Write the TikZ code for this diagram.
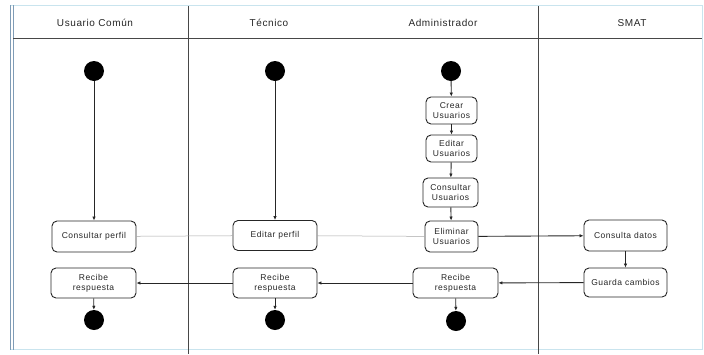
\documentclass[tikz,border=0pt]{standalone}
\usepackage{fontspec}
\setmainfont{Liberation Sans}[LetterSpace=6]
\usetikzlibrary{arrows.meta}
\definecolor{ink}{HTML}{262626}
\definecolor{frameblue}{HTML}{7F9CB6}
\definecolor{framelight}{HTML}{C9E4EE}
\tikzset{
  act/.style={draw=ink, line width=0.9pt, rounded corners=5pt, fill=white,
    inner sep=1pt, align=center, font=\fontsize{8.5}{10}\selectfont, text=ink},
  dot/.style={circle, fill=black, draw=none, minimum size=20pt, inner sep=0pt},
  flow/.style={draw=ink, line width=0.9pt, -{Latex[length=4pt,width=3.5pt]}},
  link/.style={draw=gray!70, line width=0.5pt},
  lanehead/.style={font=\fontsize{10}{12}\selectfont, text=ink},
  lane/.style={draw=ink!85, line width=0.9pt},
}
\begin{document}
\begin{tikzpicture}[x=1pt,y=-1pt]
  \useasboundingbox (0,0) rectangle (704,354);
  % outer frame
  \draw[framelight, line width=1pt] (11,5) -- (702,5) -- (702,349) -- (11,349);
  \draw[frameblue, line width=1pt] (10,5) -- (10,350);
  \draw[frameblue, line width=1pt] (13,5) -- (13,350);
  % header row and lane dividers
  \draw[lane, line width=0.7pt] (13,38) -- (702,38);
  \draw[lane] (188,6) -- (188,354);
  \draw[lane] (538,6) -- (538,354);
  \node[lanehead] (h1) at (95,23) {Usuario Común};
  \node[lanehead] (h2) at (269,23) {Técnico};
  \node[lanehead] (h3) at (443,23) {Administrador};
  \node[lanehead] (h4) at (632,23) {SMAT};

  % Usuario Común
  \node[dot] (us) at (94,71) {};
  \node[act, minimum width=84pt, minimum height=31pt] (uc) at (94,236.5) {Consultar perfil};
  \node[act, minimum width=85pt, minimum height=30pt] (ur) at (93.5,283) {Recibe\\respuesta};
  \node[dot] (ue) at (94,320) {};

  % Técnico
  \node[dot] (ts) at (275,71) {};
  \node[act, minimum width=84pt, minimum height=30pt] (te) at (275,235.5) {Editar perfil};
  \node[act, minimum width=84pt, minimum height=30pt] (tr) at (275,283) {Recibe\\respuesta};
  \node[dot] (tx) at (275,320) {};

  % Administrador
  \node[dot] (as) at (451,71) {};
  \node[act, minimum width=51pt, minimum height=27pt] (ac) at (451.5,110.5) {Crear\\Usuarios};
  \node[act, minimum width=51pt, minimum height=27pt] (ae) at (451.5,148.5) {Editar\\Usuarios};
  \node[act, minimum width=55pt, minimum height=29pt] (aq) at (450.5,192.5) {Consultar\\Usuarios};
  \node[act, minimum width=53pt, minimum height=31pt] (ad) at (451.5,236.5) {Eliminar\\Usuarios};
  \node[act, minimum width=85pt, minimum height=30pt] (ar) at (455.5,283) {Recibe\\respuesta};
  \node[dot] (ax) at (456,321) {};

  % SMAT
  \node[act, minimum width=83pt, minimum height=31pt] (sc) at (625.5,235.5) {Consulta datos};
  \node[act, minimum width=83pt, minimum height=29pt] (sg) at (625.5,282.5) {Guarda cambios};

  % control flow
  \draw[flow] (us) -- (uc);
  \draw[flow] (ts) -- (te);
  \draw[flow] (as) -- (ac);
  \draw[flow] (ac) -- (ae);
  \draw[flow] (ae) -- (aq);
  \draw[flow] (aq) -- (ad);
  \draw[link] (uc) -- (te);
  \draw[link] (te) -- (ad);
  \draw[flow] (ad) -- (sc);
  \draw[flow, line width=0.6pt] (sc) -- (sg);
  \draw[flow] (sg) -- (ar);
  \draw[flow] (ar) -- (tr);
  \draw[flow] (tr) -- (ur);
  \draw[flow] (ur) -- (ue);
  \draw[flow] (tr) -- (tx);
  \draw[flow] (ar) -- (ax);
\end{tikzpicture}
\end{document}
